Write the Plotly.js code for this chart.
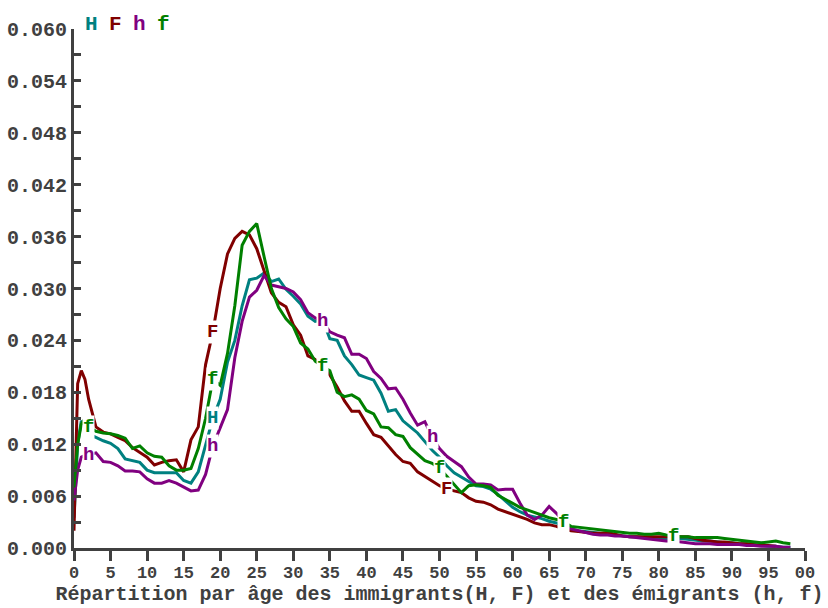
<!DOCTYPE html>
<html><head><meta charset="utf-8">
<script src="https://cdn.plot.ly/plotly-3.0.1.min.js"></script>
<style>body{margin:0;background:#fff}#c{width:828px;height:608px}</style>
</head><body><div id="c"></div>
<script>
const ages = [0,0.5,1,1.5,2,3,4,5,6,7,8,9,10,11,12,13,14,15,16,17,18,19,20,21,22,23,24,25,26,27,28,29,30,31,32,33,34,35,36,37,38,39,40,41,42,43,44,45,46,47,48,49,50,51,52,53,54,55,56,57,58,59,60,61,62,63,64,65,66,67,68,69,70,71,72,73,74,75,76,77,78,79,80,81,82,83,84,85,86,87,88,89,90,91,92,93,94,95,96,97,98];

const H = [0.0035,0.0120,0.0147,0.0142,0.0132,0.0128,0.0124,0.0121,0.0115,0.0103,0.0101,0.0099,0.0090,0.0087,0.0087,0.0087,0.0087,0.0078,0.0075,0.0088,0.0118,0.0150,0.0172,0.0215,0.0240,0.0280,0.0310,0.0312,0.0318,0.0308,0.0311,0.0299,0.0291,0.0282,0.0268,0.0262,0.0264,0.0242,0.0240,0.0222,0.0212,0.0200,0.0197,0.0194,0.0179,0.0158,0.0160,0.0147,0.0140,0.0133,0.0123,0.0113,0.0105,0.0095,0.0087,0.0082,0.0076,0.0072,0.0071,0.0068,0.0062,0.0054,0.0047,0.0042,0.0038,0.0036,0.0034,0.0031,0.0029,0.0025,0.0022,0.0020,0.0019,0.0018,0.0017,0.0016,0.0015,0.0014,0.0013,0.0013,0.0012,0.0011,0.0010,0.0010,0.0011,0.0011,0.0010,0.0009,0.0008,0.0008,0.0007,0.0006,0.0006,0.0005,0.0005,0.0004,0.0003,0.0002,0.0002,0.0001,0.0001];

const F = [0.0020,0.0190,0.0205,0.0195,0.0172,0.0140,0.0134,0.0132,0.0128,0.0124,0.0116,0.0111,0.0105,0.0096,0.0099,0.0101,0.0102,0.0088,0.0125,0.0140,0.0212,0.0250,0.0300,0.0340,0.0358,0.0366,0.0362,0.0346,0.0320,0.0295,0.0284,0.0279,0.0258,0.0246,0.0222,0.0218,0.0210,0.0200,0.0186,0.0170,0.0158,0.0158,0.0144,0.0131,0.0128,0.0118,0.0108,0.0100,0.0098,0.0088,0.0083,0.0077,0.0072,0.0068,0.0066,0.0064,0.0058,0.0054,0.0053,0.0050,0.0045,0.0042,0.0039,0.0036,0.0033,0.0029,0.0027,0.0027,0.0025,0.0022,0.0020,0.0019,0.0018,0.0017,0.0017,0.0018,0.0016,0.0014,0.0013,0.0013,0.0013,0.0013,0.0013,0.0013,0.0013,0.0013,0.0013,0.0011,0.0009,0.0008,0.0007,0.0007,0.0006,0.0005,0.0005,0.0004,0.0003,0.0003,0.0002,null,null];

const h = [0.0055,0.0090,0.0105,0.0107,0.0108,0.0110,0.0100,0.0099,0.0095,0.0089,0.0089,0.0088,0.0080,0.0075,0.0075,0.0078,0.0075,0.0070,0.0066,0.0067,0.0085,0.0118,0.0140,0.0160,0.0220,0.0262,0.0290,0.0298,0.0315,0.0304,0.0302,0.0300,0.0296,0.0287,0.0272,0.0266,0.0262,0.0250,0.0246,0.0243,0.0224,0.0224,0.0219,0.0204,0.0196,0.0184,0.0185,0.0172,0.0156,0.0142,0.0146,0.0128,0.0115,0.0106,0.0100,0.0094,0.0082,0.0074,0.0074,0.0073,0.0067,0.0068,0.0068,0.0052,0.0038,0.0033,0.0038,0.0048,0.0040,0.0030,0.0022,0.0020,0.0018,0.0016,0.0015,0.0015,0.0014,0.0014,0.0013,0.0012,0.0011,0.0010,0.0009,0.0008,0.0008,0.0007,0.0006,0.0005,0.0005,0.0005,0.0004,0.0004,0.0004,0.0004,0.0003,0.0003,0.0002,0.0002,0.0002,0.0001,0.0001];

const f = [0.0070,0.0120,0.0143,0.0150,0.0140,0.0135,0.0133,0.0132,0.0130,0.0127,0.0115,0.0118,0.0110,0.0106,0.0105,0.0095,0.0090,0.0090,0.0092,0.0115,0.0150,0.0195,0.0188,0.0225,0.0280,0.0350,0.0366,0.0375,0.0337,0.0300,0.0278,0.0265,0.0256,0.0237,0.0230,0.0216,0.0210,0.0205,0.0180,0.0175,0.0177,0.0172,0.0159,0.0155,0.0140,0.0139,0.0131,0.0129,0.0116,0.0108,0.0101,0.0098,0.0092,0.0083,0.0074,0.0064,0.0072,0.0073,0.0072,0.0070,0.0061,0.0056,0.0052,0.0047,0.0044,0.0041,0.0038,0.0035,0.0033,0.0030,0.0025,0.0024,0.0023,0.0022,0.0021,0.0020,0.0019,0.0018,0.0017,0.0017,0.0016,0.0016,0.0017,0.0015,0.0014,0.0013,0.0013,0.0012,0.0012,0.0012,0.0012,0.0011,0.0010,0.0009,0.0008,0.0007,0.0006,0.0007,0.0008,0.0006,0.0005];

const xTickVals = [0,5,10,15,20,25,30,35,40,45,50,55,60,65,70,75,80,85,90,95,100];
const xTickText = ['0','5','10','15','20','25','30','35','40','45','50','55','60','65','70','75','80','85','90','95','00'];
const yTickVals = [0,0.006,0.012,0.018,0.024,0.030,0.036,0.042,0.048,0.054,0.060];
const yTickText = ['0.000','0.006','0.012','0.018','0.024','0.030','0.036','0.042','0.048','0.054','0.060'];

const series = [
  {name:'H', y:H, color:'#008080', labels:[19]},
  {name:'F', y:F, color:'#800000', labels:[19,51]},
  {name:'h', y:h, color:'#800080', labels:[2,19,34,49]},
  {name:'f', y:f, color:'#008000', labels:[2,19,34,50,67,82]}
];

const traces = series.map(s => ({
  x: ages, y: s.y, type:'scatter', mode:'lines', name:s.name,
  line:{color:s.color, width:3}, connectgaps:false, hoverinfo:'skip'
}));

const annotations = [];
series.forEach(s => {
  s.labels.forEach(a => {
    const i = ages.indexOf(a);
    annotations.push({x:a, y:s.y[i], xref:'x', yref:'y', text:s.name, showarrow:false,
      font:{family:'Liberation Mono', size:19, color:s.color, weight:'bold'},
      bgcolor:'#ffffff', borderpad:0, xanchor:'center', yanchor:'middle'});
  });
});
const legendX = [0.024, 0.057, 0.090, 0.122];
series.forEach((s, k) => {
  annotations.push({x:legendX[k], y:1.008, xref:'paper', yref:'paper', text:s.name, showarrow:false,
    font:{family:'Liberation Mono', size:21, color:s.color, weight:'bold'},
    xanchor:'center', yanchor:'middle'});
});

const axisColor = '#404040';
const layout = {
  width:828, height:608,
  margin:{l:73.5, r:23, t:29, b:60},
  paper_bgcolor:'#fff', plot_bgcolor:'#fff',
  showlegend:false,
  font:{family:'Liberation Mono', color:axisColor},
  xaxis:{range:[0,100], showgrid:false, zeroline:false, showline:true, linecolor:axisColor, linewidth:3,
    ticks:'outside', ticklen:10, tickwidth:3, tickcolor:axisColor,
    tickvals:xTickVals, ticktext:xTickText, ticklabelstandoff:-3,
    tickfont:{family:'Liberation Mono', size:17, color:axisColor, weight:'bold'},
    title:{text:'Répartition par âge des immigrants(H, F) et des émigrants (h, f)', standoff:0,
      font:{family:'Liberation Mono', size:20, color:axisColor, weight:'bold'}}},
  yaxis:{range:[0,0.06], showgrid:false, zeroline:false, showline:true, linecolor:axisColor, linewidth:3,
    ticks:'inside', ticklen:7, tickwidth:3, tickcolor:axisColor,
    tickvals:yTickVals, ticktext:yTickText,
    minor:{tickvals:[0.003,0.009,0.015,0.021,0.027,0.033,0.039,0.045,0.051,0.057], ticks:'inside', ticklen:7, tickwidth:3, tickcolor:axisColor},
    tickfont:{family:'Liberation Mono', size:20, color:axisColor, weight:'bold'}},
  annotations: annotations
};
Plotly.newPlot('c', traces, layout, {displayModeBar:false, staticPlot:true});
</script></body></html>
